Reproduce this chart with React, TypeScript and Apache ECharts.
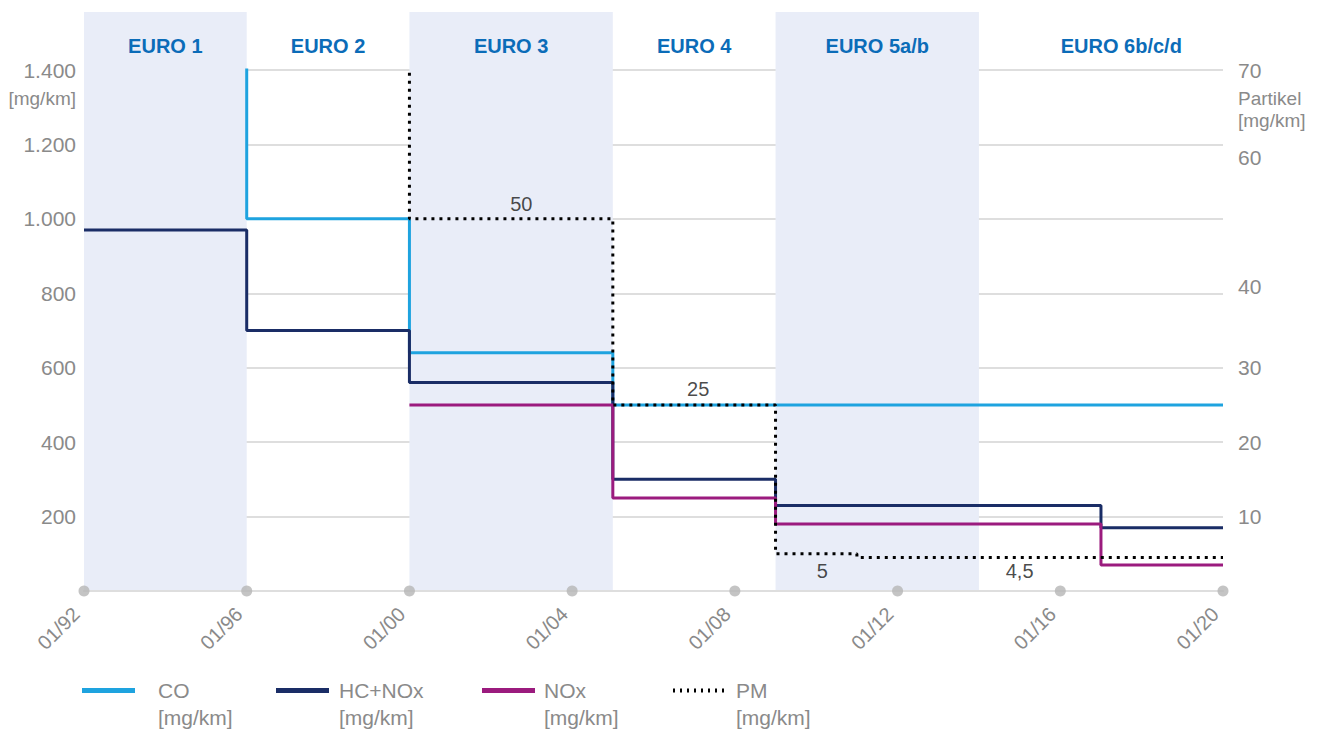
import React, { useEffect, useRef } from 'react';
import * as echarts from 'echarts';

// ---- data ----
const bandNames = ['EURO 1', 'EURO 2', 'EURO 3', 'EURO 4', 'EURO 5a/b', 'EURO 6b/c/d'];
const bandStarts = [1992, 1996, 2000, 2005, 2009, 2014];
const bandEnds = [1996, 2000, 2005, 2009, 2014, 2021];
const bandShaded = [true, false, true, false, true, false];

const xTicks = [1992, 1996, 2000, 2004, 2008, 2012, 2016, 2020];

const coSteps = [[1992, 2720], [1996, 1000], [2000, 640], [2005, 500], [2020, 500]];
const hcNoxSteps = [[1992, 970], [1996, 700], [2000, 560], [2005, 300], [2009, 230], [2017, 170], [2020, 170]];
const noxSteps = [[2000, 500], [2005, 250], [2009, 180], [2017, 70], [2020, 70]];
const pmSteps = [[1996, 80], [2000, 50], [2005, 25], [2009, 5], [2011, 4.5], [2020, 4.5]];

const pmLabelX = [2002.75, 2007.1, 2010.15, 2015];
const pmLabelValues = [50, 25, 5, 4.5];
const pmLabelTexts = ['50', '25', '5', '4,5'];
const pmLabelPos = ['top', 'top', 'bottom', 'bottom'];
const pmLabelDist = [5, 6, 7, 3];

const seriesNames = ['CO', 'HC+NOx', 'NOx', 'PM'];
const seriesColors = ['#1ea3df', '#1a2d66', '#9b1b7e', '#000000'];
const legendLefts = [82, 276, 482, 673];
const legendTextGaps = [18, 5, 4, 7];

const GREY = '#8a8a8a';
const GRID = '#dedede';
const BAND = '#e9edf8';
const HEAD = '#0b6cb8';
const FONT = '"Liberation Sans", Arial, Helvetica, sans-serif';

function fmtLeft(v: number) {
  if (v === 0) return '';
  if (v >= 1000) return Math.floor(v / 1000) + '.' + String(v % 1000).padStart(3, '0');
  return String(v);
}

function fmtRight(v: number) {
  if (v === 0 || v === 50) return '';
  if (v === 60) return '{dn|60}';
  if (v === 40) return '{up|40}';
  return '{n|' + v + '}';
}

function dottedIcon() {
  let d = '';
  for (let i = 0; i < 8; i++) {
    const x = i * 7;
    d += `M${x},0h2v4h-2z`;
  }
  return 'path://' + d;
}

function buildOption() {
  const lineSeries = [coSteps, hcNoxSteps, noxSteps, pmSteps].map((steps, i) => ({
    name: seriesNames[i],
    type: 'line',
    step: 'end',
    xAxisIndex: 0,
    yAxisIndex: i === 3 ? 1 : 0,
    symbol: 'none',
    showSymbol: false,
    clip: true,
    color: seriesColors[i],
    itemStyle: { color: seriesColors[i] },
    lineStyle: i === 3
      ? { color: seriesColors[i], width: 3, type: [3, 5] }
      : { color: seriesColors[i], width: 3 },
    z: 2 + i * 0.1,
    data: steps,
  }));

  const labelRich = {
    n: { color: GREY, fontSize: 21, fontFamily: FONT },
    dn: { color: GREY, fontSize: 21, fontFamily: FONT, padding: [26, 0, 0, 0] },
    up: { color: GREY, fontSize: 21, fontFamily: FONT, padding: [0, 0, 14, 0] },
  };

  return {
    animation: false,
    backgroundColor: '#ffffff',
    textStyle: { fontFamily: FONT },
    grid: [
      { left: 84, right: 100, top: 70, bottom: 140 },
      { left: 84, right: 1323 - 84 - (1139 * 29) / 28, top: 12, bottom: 140 },
    ],
    xAxis: [
      {
        type: 'value', gridIndex: 0, min: 1992, max: 2020, interval: 4, z: 1,
        axisLine: { show: true, lineStyle: { color: GRID, width: 2 } },
        axisTick: { show: false },
        splitLine: { show: false },
        axisLabel: {
          color: GREY, fontSize: 20, rotate: 45, margin: 12, padding: [0, 11, 0, 0],
          formatter: (v: number) => '01/' + String(v).slice(2),
        },
      },
      {
        type: 'value', gridIndex: 1, min: 1992, max: 2021, show: false,
      },
    ],
    yAxis: [
      {
        type: 'value', gridIndex: 0, min: 0, max: 1400, interval: 200, z: 1,
        axisLine: { show: false }, axisTick: { show: false },
        splitLine: { show: true, lineStyle: { color: GRID, width: 2 } },
        axisLabel: { color: GREY, fontSize: 21, margin: 8, formatter: fmtLeft },
        name: '[mg/km]', nameLocation: 'end', nameGap: -28,
        nameTextStyle: { color: GREY, fontSize: 19, align: 'right', verticalAlign: 'middle', padding: [0, 8, 0, 0] },
      },
      {
        type: 'value', gridIndex: 0, position: 'right', min: 0, max: 70, interval: 10, z: 1,
        axisLine: { show: false }, axisTick: { show: false }, splitLine: { show: false },
        axisLabel: { color: GREY, fontSize: 21, margin: 15, formatter: fmtRight, rich: labelRich },
        name: 'Partikel\n[mg/km]', nameLocation: 'end', nameGap: -39,
        nameTextStyle: { color: GREY, fontSize: 19, lineHeight: 22, align: 'left', verticalAlign: 'middle', padding: [0, 0, 0, 15] },
      },
      { type: 'value', gridIndex: 1, min: 0, max: 1, show: false },
    ],
    legend: seriesNames.map((name, i) => ({
      data: [name],
      left: legendLefts[i],
      top: 650,
      padding: 0,
      itemGap: 0,
      selectedMode: false,
      itemWidth: i === 3 ? 51 : 53,
      itemHeight: i === 3 ? 4 : 5,
      icon: i === 3 ? dottedIcon() : 'rect',
      formatter: ' \n{name}\n[mg/km]',
      textStyle: { color: GREY, fontSize: 21, lineHeight: 27, padding: [0, 0, 0, legendTextGaps[i]] },
    })),
    series: [
      {
        name: 'bands', type: 'line', xAxisIndex: 1, yAxisIndex: 2, data: [], z: 0, silent: true,
        markArea: {
          silent: true,
          data: bandNames.map((nm, i) => [
            {
              name: nm, xAxis: bandStarts[i],
              itemStyle: { color: bandShaded[i] ? BAND : 'rgba(0,0,0,0)' },
              label: { show: true, position: 'insideTop', distance: 24, color: HEAD, fontSize: 20, fontWeight: 'bold', fontFamily: FONT },
            },
            { xAxis: bandEnds[i] },
          ]),
        },
      },
      ...lineSeries,
      {
        name: 'pmLabels', type: 'scatter', xAxisIndex: 0, yAxisIndex: 1, symbolSize: 0, silent: true, z: 4, clip: false,
        data: pmLabelX.map((x, i) => ({
          value: [x, pmLabelValues[i]],
          label: {
            show: true, formatter: pmLabelTexts[i], position: pmLabelPos[i], distance: pmLabelDist[i],
            color: '#1a1a1a', fontSize: 20,
          },
        })),
      },
      {
        name: 'ticks', type: 'scatter', xAxisIndex: 0, yAxisIndex: 0, symbolSize: 11, silent: true, z: 5, clip: false,
        itemStyle: { color: '#b5b5b5' },
        data: xTicks.map((x) => [x, 0]),
      },
    ],
  };
}

export default function App() {
  const ref = useRef<HTMLDivElement>(null);
  useEffect(() => {
    if (!ref.current) return;
    const chart = echarts.init(ref.current, undefined, { renderer: 'svg' });
    chart.setOption(buildOption() as any);
    return () => chart.dispose();
  }, []);
  return (
    <div
      ref={ref}
      style={{ position: 'fixed', left: 0, top: 0, width: 1323, height: 731, background: '#fff' }}
    />
  );
}
